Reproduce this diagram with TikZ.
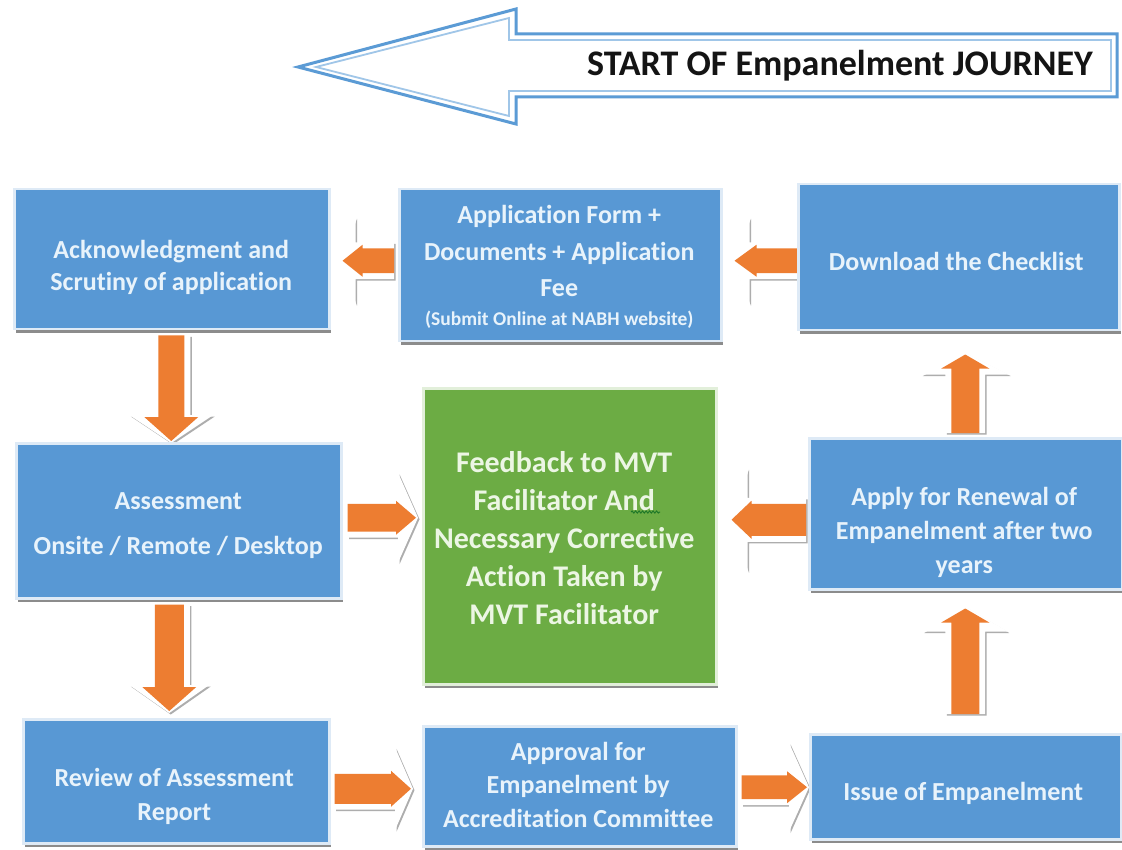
\documentclass[tikz,border=0pt]{standalone}
\usepackage{fontspec}
\setmainfont{Carlito}[Ligatures={NoCommon}]
\usetikzlibrary{calc,shadows,decorations.pathmorphing}
\definecolor{boxblue}{RGB}{88,152,212}
\definecolor{boxedge}{RGB}{222,234,246}
\definecolor{boxgreen}{RGB}{108,172,68}
\definecolor{greenedge}{RGB}{226,239,218}
\definecolor{txtblue}{RGB}{232,243,251}
\definecolor{txtgreen}{RGB}{236,246,228}
\definecolor{arrorange}{RGB}{237,125,49}
\definecolor{topblue}{RGB}{91,155,213}
\definecolor{toplight}{RGB}{160,198,232}
\definecolor{squiggreen}{RGB}{30,120,40}
\pgfdeclarelayer{bg}
\pgfsetlayers{bg,main}
\tikzset{
  flowbox/.style={rectangle, inner sep=0pt, fill=boxblue, draw=boxedge, line width=2.5pt,
    drop shadow={shadow xshift=1.5pt, shadow yshift=-3.5pt, fill=black!45, opacity=1}},
  greenbox/.style={flowbox, fill=boxgreen, draw=greenedge},
  btext/.style={text=txtblue, font=\bfseries\fontsize{26}{34}\selectfont, align=center, inner sep=0pt},
  gtext/.style={text=txtgreen, font=\bfseries\fontsize{30}{38}\selectfont, align=center, inner sep=0pt},
  titletext/.style={text=black!92, font=\bfseries\fontsize{36}{40}\selectfont, inner sep=0pt},
  topout/.style={draw=topblue, line width=3pt, fill=white, line join=miter},
  topin/.style={draw=toplight, line width=1.8pt, line join=miter},
  barrow/.style n args={4}{to path={
    let \p1=(\tikztostart), \p2=(\tikztotarget),
        \n1={scalar(atan2(\y2-\y1,\x2-\x1))},
        \n7={#1}, \n8={#2}, \n9={#3},
        \n2={scalar(veclen(\x2-\x1,\y2-\y1))-(#4)-\n9},
        \n3={\n8-\n7},
        \n5={veclen(\n9,\n8)},
        \n4={\n1-atan2(\n8,\n9)},
        \n6={\n1+180+atan2(\n8,\n9)} in
    (\tikztostart) ++(\n1+90:\n7 pt) -- ++(\n1:\n2 pt) -- ++(\n1+90:\n3 pt)
    -- ++(\n4:\n5 pt) -- ++(\n6:\n5 pt) -- ++(\n1+90:\n3 pt) -- ++(\n1+180:\n2 pt) -- cycle}},
  ghostshadow/.style={fill=black!32, transform canvas={xshift=1.5pt,yshift=-1.5pt}},
  ghost/.style={fill=white},
  orangepart/.style={fill=arrorange},
  squig/.style={draw=squiggreen, line width=1pt, decorate,
    decoration={snake, amplitude=1pt, segment length=3.5pt}}
}
\newcommand\flowarrow[7]{%
  \path[ghostshadow] (#1) to[barrow={#3+6}{#4}{#5}{0}] (#2);
  \path[ghost] (#1) to[barrow={#3+6}{#4}{#5}{0}] (#2);
  \path[orangepart] (#1) to[barrow={#3}{#6}{#7}{2}] (#2);}
\begin{document}
\begin{tikzpicture}[x=1pt,y=-1pt]
\useasboundingbox (0,0) rectangle (1122,850);
\begin{pgfonlayer}{bg}
\fill[white] (0,0) rectangle (1122,850);
\end{pgfonlayer}

% start arrow
\draw[topout] (298,67) -- (516,9) -- (516,34) -- (1117,34) -- (1117,97) -- (516,97) -- (516,124) -- cycle;
\draw[topin] (316,67) -- (509,18) -- (509,40) -- (1111,40) -- (1111,91) -- (509,91) -- (509,116) -- cycle;
\node[titletext] (title) at (840,66) {START OF Empanelment JOURNEY};

% boxes
\node[flowbox, minimum width=315pt, minimum height=140pt, anchor=north west] (ack) at (13,188) {};
\node[flowbox, minimum width=322pt, minimum height=152pt, anchor=north west] (app) at (398,188) {};
\node[flowbox, minimum width=321pt, minimum height=146pt, anchor=north west] (dl) at (797,183) {};
\node[flowbox, minimum width=325pt, minimum height=155pt, anchor=north west] (asm) at (15,442) {};
\node[greenbox, minimum width=293pt, minimum height=296pt, anchor=north west] (fb) at (422,387) {};
\node[flowbox, minimum width=313pt, minimum height=151pt, anchor=north west] (ren) at (808,437) {};
\node[flowbox, minimum width=306pt, minimum height=124pt, anchor=north west] (rev) at (22,718) {};
\node[flowbox, minimum width=313pt, minimum height=120pt, anchor=north west] (apr) at (422,725) {};
\node[flowbox, minimum width=311pt, minimum height=105pt, anchor=north west] (iss) at (809,733) {};

% texts
\node[btext, font=\bfseries\fontsize{26}{32}\selectfont] (ackT) at ($(ack.center)+(-0.5,8)$) {Acknowledgment and\\Scrutiny of application};
\node[btext, font=\bfseries\fontsize{26}{36.5}\selectfont] (appT) at ($(app.center)+(-1,2)$) {Application Form +\\Documents + Application\\Fee\\[-7.5pt]{\fontsize{19.5}{24}\selectfont (Submit Online at NABH website)}};
\node[btext] (dlT) at ($(dl.center)+(-2.5,4)$) {Download the Checklist};
\node[btext] (asmT) at ($(asm.center)+(-0.5,5)$) {Assessment\\[11pt]Onsite / Remote / Desktop};
\node[gtext] (fbT) at ($(fb.center)+(-5.5,1.5)$) {Feedback to MVT\\Facilitator And\\Necessary Corrective\\Action Taken by\\MVT Facilitator};
\node[btext] (renT) at ($(ren.center)+(-1.5,18.5)$) {Apply for Renewal of\\Empanelment after two\\years};
\node[btext] (revT) at ($(rev.center)+(-2,15)$) {Review of Assessment\\Report};
\node[btext, font=\bfseries\fontsize{26}{33.5}\selectfont] (aprT) at ($(apr.center)+(-1.5,-1.5)$) {Approval for\\Empanelment by\\Accreditation Committee};
\node[btext] (issT) at ($(iss.center)+(-2.5,6.5)$) {Issue of Empanelment};

\draw[squig] (631,512) -- (660,512);

% connectors
\begin{pgfonlayer}{bg}
\flowarrow{$(dl.west)+(0,3.5)$}{$(app.east)+(10,-4.5)$}{12.5}{43.5}{17}{16}{22}
\flowarrow{$(app.west)+(-4,-4.5)$}{$(ack.east)+(10,1.5)$}{12.5}{43.5}{15}{16}{20}
\flowarrow{$(ack.south)+(-0.5,5)$}{$(asm.north)+(-7.5,1)$}{13}{42}{28}{27}{24}
\flowarrow{$(asm.south)+(-9.5,5)$}{$(rev.north)+(-7,-5)$}{14.5}{40}{28}{27}{24}
\flowarrow{$(rev.east)+(4,7.5)$}{$(apr.west)+(-9,2.5)$}{15}{41.5}{18}{18}{20}
\flowarrow{$(apr.east)+(4,1)$}{$(iss.west)+(0,0.5)$}{12}{44.5}{20}{16}{20}
\flowarrow{$(iss.north)+(-0.5,-19)$}{$(ren.south)+(-0.5,16)$}{14}{42.5}{25}{24}{14}
\flowarrow{$(ren.north)+(-0.5,-4)$}{$(dl.south)+(6.5,21)$}{14}{44}{22}{24}{14}
\flowarrow{$(asm.east)+(5,-3)$}{$(fb.west)+(-4,-18.5)$}{14}{45}{20}{17}{20}
\flowarrow{$(ren.west)+(-2,6)$}{$(fb.east)+(12,-16.5)$}{16}{51.5}{18}{19}{20}
\end{pgfonlayer}
\end{tikzpicture}
\end{document}
